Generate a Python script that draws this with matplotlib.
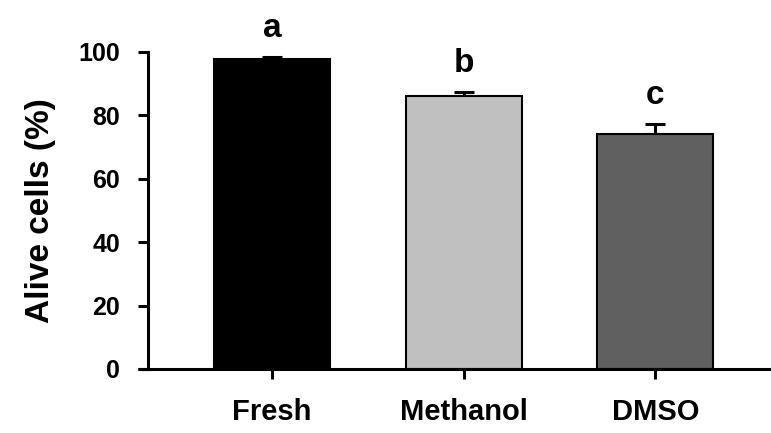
import matplotlib
matplotlib.use("Agg")
import matplotlib.pyplot as plt

plt.rcParams['font.family'] = ['Liberation Sans', 'DejaVu Sans']
plt.rcParams['font.weight'] = 'bold'

groups = ["Fresh", "Methanol", "DMSO"]
alive = [97.8, 86.1, 74.1]
err = [0.6, 1.3, 3.2]
letters = ["a", "b", "c"]
colors = ["#000000", "#c0c0c0", "#606060"]

fig = plt.figure(figsize=(7.71, 4.33), dpi=100)
ax = fig.add_axes([0.192, 0.148, 0.807, 0.732])

x = range(len(groups))
ax.bar(x, alive, width=0.605, color=colors, edgecolor="black", linewidth=1.5, zorder=2)
ax.errorbar(x, alive, yerr=[[0] * len(err), err], fmt="none", ecolor="black",
            elinewidth=2.2, capsize=7.5, capthick=2.2, clip_on=False, zorder=1)

for i, (v, e, l) in enumerate(zip(alive, err, letters)):
    ax.text(i, v + e + 6.4, l, ha="center", va="baseline", fontsize=24, fontweight="bold")

xmin = -0.647
ax.set_xlim(xmin, 2.6)
ax.set_ylim(0, 100)
ax.set_yticks([0, 20, 40, 60, 80, 100])
ax.set_xticks(list(x))
ax.set_xticklabels(groups, fontsize=21, fontweight="bold")
ax.tick_params(axis="y", labelsize=18, length=7.2, width=2.2, pad=13)
ax.tick_params(axis="x", length=7.2, width=2.2, pad=14)
ax.set_ylabel("Alive cells (%)", fontsize=24, fontweight="bold", labelpad=16)

for s in ["top", "right"]:
    ax.spines[s].set_visible(False)
for s in ["left", "bottom"]:
    ax.spines[s].set_linewidth(2.2)

# x axis line reaches out under the y ticks
ax.plot([xmin - 0.052, xmin], [0, 0], color="black", linewidth=2.2,
        clip_on=False, solid_capstyle="butt")

fig.savefig("out.png", dpi=100)
